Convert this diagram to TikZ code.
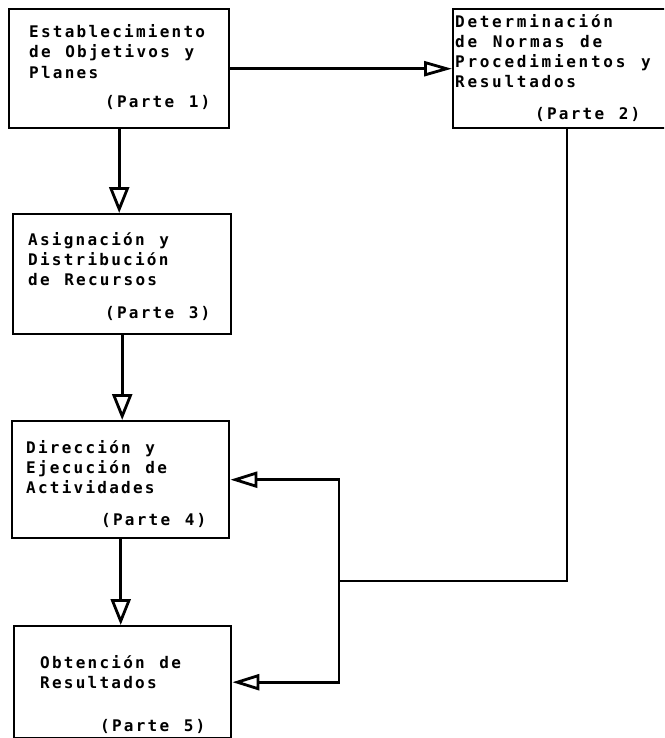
\documentclass[tikz,border=0pt]{standalone}
\usepackage{fontspec}
\newfontfamily\tw{DejaVu Sans Mono Bold}[LetterSpace=14, WordSpace=1.23]
\newfontfamily\twb{DejaVu Sans Mono Bold}[LetterSpace=17, WordSpace=1.28]
\usetikzlibrary{arrows.meta}
\begin{document}
\begin{tikzpicture}[x=1pt,y=-1pt,
  box/.style={draw, line width=2.4pt, inner sep=0pt, anchor=north west},
  lbl/.style={anchor=base west, inner sep=0pt, font=\tw\fontsize{16}{20}\selectfont},
  lblw/.style={anchor=base west, inner sep=0pt, font=\twb\fontsize{16}{20}\selectfont},
  conn/.style={line width=2.6pt},
  vtip/.style={-{Triangle[open,length=26pt,width=20pt,line width=2.8pt]}},
  htip/.style={{Triangle[open,length=27pt,width=16pt,line width=2.8pt]}-{Triangle[open,length=27pt,width=16pt,line width=2.8pt]}},
  rtip/.style={-{Triangle[open,length=28pt,width=15pt,line width=2.8pt]}}
]
\useasboundingbox (0,0) rectangle (664,738);
\clip (0,0) rectangle (664,738);

% boxes
\node[box, minimum width=220pt, minimum height=119pt] (b1) at (8,8) {};
\node[box, minimum width=240pt, minimum height=119pt] (b2) at (452,8) {};
\node[box, minimum width=218pt, minimum height=120pt] (b3) at (12,213) {};
\node[box, minimum width=217pt, minimum height=117pt] (b4) at (11,420) {};
\node[box, minimum width=217pt, minimum height=112pt] (b5) at (13,625) {};

% texts
\node[lbl] (l1a) at (29,38) {Establecimiento};
\node[lbl] (l1b) at (29,58) {de Objetivos y};
\node[lbl] (l1c) at (29,79) {Planes};
\node[lbl] (p1)  at (105,108) {(Parte 1)};

\node[lblw] (l2a) at (455,28) {Determinación};
\node[lblw] (l2b) at (455,48) {de Normas de};
\node[lblw] (l2c) at (455,68) {Procedimientos y};
\node[lblw] (l2d) at (455,88) {Resultados};
\node[lbl] (p2)  at (535,120) {(Parte 2)};

\node[lbl] (l3a) at (28,245) {Asignación y};
\node[lbl] (l3b) at (28,265) {Distribución};
\node[lbl] (l3c) at (28,285) {de Recursos};
\node[lbl] (p3)  at (105,318) {(Parte 3)};

\node[lbl] (l4a) at (26,453) {Dirección y};
\node[lbl] (l4b) at (26,473) {Ejecución de};
\node[lbl] (l4c) at (26,493) {Actividades};
\node[lbl] (p4)  at (101,525) {(Parte 4)};

\node[lbl] (l5a) at (40,668) {Obtención de};
\node[lbl] (l5b) at (40,688) {Resultados};
\node[lbl] (p5)  at (100,731) {(Parte 5)};

% connectors
\draw[conn, vtip] (b1.south) -- (b1.south |- b3.north);
\draw[conn, vtip] (b3.south) -- (b3.south |- b4.north);
\draw[conn, vtip] (b4.south) -- (b4.south |- b5.north);
\draw[conn, rtip] (b1.east) -- (b2.west);

\coordinate (c1) at (567,581);
\coordinate (c2) at (339,581);
\draw[conn] (b2.south -| c1) -- (c1) -- (c2);
\draw[conn, htip] (b4.east) -- (b4.east -| c2) -- (b5.east -| c2) -- (b5.east);
\end{tikzpicture}
\end{document}
